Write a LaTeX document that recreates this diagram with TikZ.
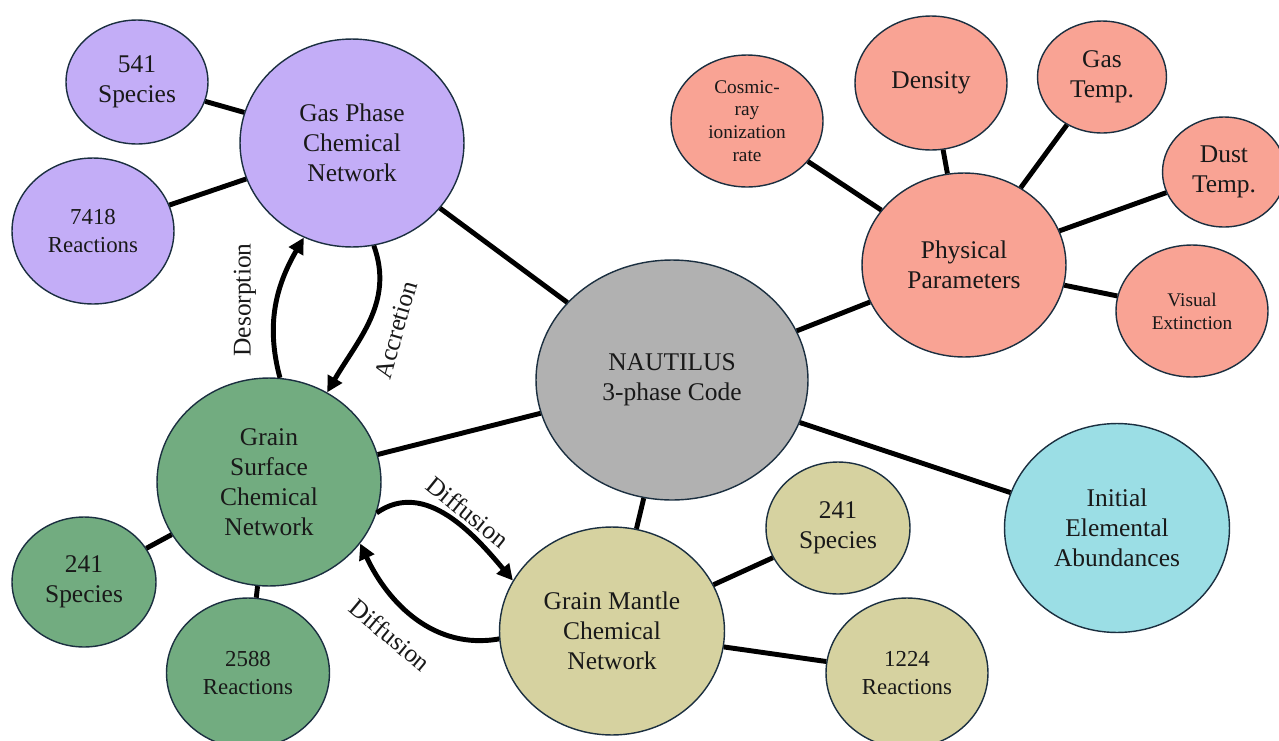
\documentclass[tikz,border=0pt]{standalone}
\usepackage{fontspec}
\setmainfont{Liberation Serif}
\usetikzlibrary{shapes.geometric, arrows.meta}
\definecolor{gasc}{HTML}{C3ADF7}
\definecolor{grainc}{HTML}{72AC80}
\definecolor{mantlec}{HTML}{D6D2A0}
\definecolor{corec}{HTML}{B1B1B1}
\definecolor{abundc}{HTML}{9BDEE5}
\definecolor{physc}{HTML}{F9A394}
\definecolor{edgec}{HTML}{1B2F40}
\tikzset{
  bubble/.style={
    ellipse, draw=edgec, line width=0.8pt, inner sep=0pt,
    align=center, text=black!90, font=\fontsize{14.5}{17}\selectfont
  },
  gasnet/.style={bubble, fill=gasc},
  grainnet/.style={bubble, fill=grainc},
  mantlenet/.style={bubble, fill=mantlec},
  core/.style={bubble, fill=corec},
  abund/.style={bubble, fill=abundc},
  physpar/.style={bubble, fill=physc},
  small/.style={font=\fontsize{13}{16}\selectfont},
  tiny/.style={font=\fontsize{11}{13}\selectfont},
  link/.style={line width=2.8pt, black},
  flow/.style={-{Triangle[length=9pt,width=9pt]}, line width=2.8pt, black},
  flowlabel/.style={font=\fontsize{14.5}{17}\selectfont, text=black!90}
}
\begin{document}
\begin{tikzpicture}[x=0.02cm, y=-0.02cm]
  \useasboundingbox (0,0) rectangle (1279,741);

  % Central code
  \node[core, minimum width=5.44cm, minimum height=4.80cm] (naut) at (672,380) {NAUTILUS\\3-phase Code};

  % Gas phase network
  \node[gasnet, minimum width=4.48cm, minimum height=4.16cm] (gas) at (352,143) {Gas Phase\\Chemical\\Network};
  \node[gasnet, minimum width=2.84cm, minimum height=2.48cm] (gassp) at (137,82) {541\\Species};
  \node[gasnet, small, minimum width=3.24cm, minimum height=2.92cm] (gasre) at (93,231) {7418\\Reactions};

  % Grain surface network
  \node[grainnet, minimum width=4.48cm, minimum height=4.16cm] (surf) at (269,482) {Grain\\Surface\\Chemical\\Network};
  \node[grainnet, minimum width=2.88cm, minimum height=2.60cm] (surfsp) at (84,582) {241\\Species};
  \node[grainnet, small, minimum width=3.26cm, minimum height=3.00cm] (surfre) at (248,673) {2588\\Reactions};

  % Grain mantle network
  \node[mantlenet, minimum width=4.50cm, minimum height=4.16cm] (mant) at (612,631) {Grain Mantle\\Chemical\\Network};
  \node[mantlenet, minimum width=2.88cm, minimum height=2.64cm] (mantsp) at (838,528) {241\\Species};
  \node[mantlenet, small, minimum width=3.24cm, minimum height=3.00cm] (mantre) at (907,673) {1224\\Reactions};

  % Abundances
  \node[abund, minimum width=4.50cm, minimum height=4.18cm] (init) at (1117,528) {Initial\\Elemental\\Abundances};

  % Physical parameters
  \node[physpar, minimum width=4.08cm, minimum height=3.68cm] (phys) at (964,265) {Physical\\Parameters};
  \node[physpar, tiny, minimum width=3.04cm, minimum height=2.64cm] (crir) at (747,121) {Cosmic-\\ray\\ionization\\rate};
  \node[physpar, minimum width=3.04cm, minimum height=2.68cm] (dens) at (931,83) {Density};
  \node[physpar, minimum width=2.58cm, minimum height=2.24cm] (tgas) at (1102,77) {Gas\\Temp.};
  \node[physpar, minimum width=2.46cm, minimum height=2.20cm] (tdust) at (1224,172) {Dust\\Temp.};
  \node[physpar, tiny, minimum width=3.04cm, minimum height=2.64cm] (avis) at (1192,311) {Visual\\Extinction};

  % Links to the code
  \draw[link] (naut) -- (gas);
  \draw[link] (naut) -- (surf);
  \draw[link] (naut) -- (mant);
  \draw[link] (naut) -- (phys);
  \draw[link] (naut) -- (init);

  % Links inside each group
  \draw[link] (gas) -- (gassp);
  \draw[link] (gas) -- (gasre);
  \draw[link] (surf) -- (surfsp);
  \draw[link] (surf) -- (surfre);
  \draw[link] (mant) -- (mantsp);
  \draw[link] (mant) -- (mantre);
  \draw[link] (phys) -- (crir);
  \draw[link] (phys) -- (dens);
  \draw[link] (phys) -- (tgas);
  \draw[link] (phys) -- (tdust);
  \draw[link] (phys) -- (avis);

  % Exchange between phases
  \draw[flow] (surf.84) to[out=105, in=240] (gas.243);
  \draw[flow] (gas.282) to[out=-70, in=60] (surf.57);
  \draw[flow] (surf.-16) to[out=35, in=130] (mant.153);
  \draw[flow] (mant.184) to[out=190, in=-65] (surf.-34);

  \node[flowlabel, rotate=90] (desorb) at (245,300) {Desorption};
  \node[flowlabel, rotate=74] (accr) at (396,330) {Accretion};
  \node[flowlabel, rotate=-39] (diffa) at (468,512) {Diffusion};
  \node[flowlabel, rotate=-40] (diffb) at (390,635) {Diffusion};
\end{tikzpicture}
\end{document}
